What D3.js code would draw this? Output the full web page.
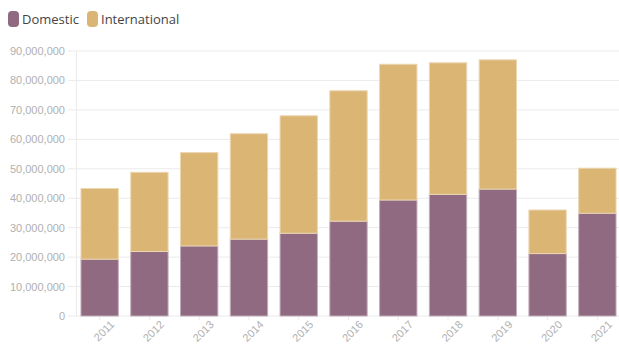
<!DOCTYPE html>
<html>
<head>
<meta charset="utf-8">
<script src="https://cdn.jsdelivr.net/npm/d3@7"></script>
<style>
  html, body { margin: 0; padding: 0; background: #fff; }
  svg { display: block; font-family: "Open Sans", "Noto Sans", sans-serif; }
</style>
</head>
<body>
<svg id="chart" width="619" height="349"></svg>
<script>
// Passenger counts by year, split into domestic and international
const years = ["2011","2012","2013","2014","2015","2016","2017","2018","2019","2020","2021"];
const domestic = [19300000, 21900000, 23800000, 26100000, 28100000, 32200000, 39400000, 41300000, 43100000, 21200000, 34900000];
const international = [24000000, 26900000, 31700000, 35800000, 39900000, 44300000, 46100000, 44700000, 43900000, 14800000, 15300000];
const seriesNames = ["Domestic", "International"];
const seriesColors = ["#8f6a80", "#dbb574"];
const yTicks = [0, 10000000, 20000000, 30000000, 40000000, 50000000, 60000000, 70000000, 80000000, 90000000];

const svg = d3.select("#chart");
const margin = { left: 76, right: -2, top: 51, bottom: 33 };
const W = 619, H = 349;

const rows = years.map((y, i) => ({ year: y, Domestic: domestic[i], International: international[i] }));
const stacked = d3.stack().keys(seriesNames)(rows);

const x = d3.scaleBand().domain(years)
  .range([margin.left, W - margin.right])
  .paddingInner(0.25).paddingOuter(0.1);
const y = d3.scaleLinear().domain([0, 90000000]).range([H - margin.bottom, margin.top]);
const color = d3.scaleOrdinal().domain(seriesNames).range(seriesColors);

// horizontal grid lines
svg.append("g").selectAll("line").data(yTicks).join("line")
  .attr("x1", margin.left - 8).attr("x2", W)
  .attr("y1", d => y(d)).attr("y2", d => y(d))
  .attr("stroke", "#ebebeb").attr("stroke-width", 1);

// vertical axis line
svg.append("line")
  .attr("x1", margin.left + 0.5).attr("x2", margin.left + 0.5)
  .attr("y1", y(90000000)).attr("y2", y(0))
  .attr("stroke", "#ebebeb");

// y axis labels
const yAxis = d3.axisLeft(y).tickValues(yTicks).tickSize(0).tickPadding(11)
  .tickFormat(d3.format(","));
const gy = svg.append("g").attr("transform", `translate(${margin.left},0)`).call(yAxis);
gy.select(".domain").remove();
gy.selectAll("text").attr("fill", "#b0b0b0").attr("font-size", "11px");

// x axis labels
const xAxis = d3.axisBottom(x).tickSize(4).tickPadding(3);
const gx = svg.append("g").attr("transform", `translate(0,${y(0)})`).call(xAxis);
gx.select(".domain").remove();
gx.selectAll("line").attr("stroke", "#ebebeb");
gx.selectAll("text")
  .attr("fill", "#b0b0b0").attr("font-size", "11px")
  .attr("text-anchor", "end")
  .attr("dx", "0.4em").attr("dy", "0.95em")
  .attr("transform", "rotate(-45)");

// stacked bars
svg.append("g").selectAll("g").data(stacked).join("g")
  .attr("fill", d => color(d.key))
  .attr("stroke", d => d3.interpolateRgb(color(d.key), "#ffffff")(0.45))
  .selectAll("rect").data(d => d).join("rect")
  .attr("x", d => x(d.data.year))
  .attr("width", x.bandwidth())
  .attr("y", d => y(d[1]))
  .attr("height", d => y(d[0]) - y(d[1]))
  .attr("stroke-width", 1);

// legend
const legend = svg.append("g");
const legendX = [8, 87];
seriesNames.forEach((name, i) => {
  const g = legend.append("g").attr("transform", `translate(${legendX[i]},11)`);
  g.append("rect").attr("width", 11).attr("height", 16).attr("rx", 4)
    .attr("fill", color(name));
  g.append("text").attr("x", 14).attr("y", 13)
    .attr("font-size", "13px").attr("fill", "#444").text(name);
});
</script>
</body>
</html>
